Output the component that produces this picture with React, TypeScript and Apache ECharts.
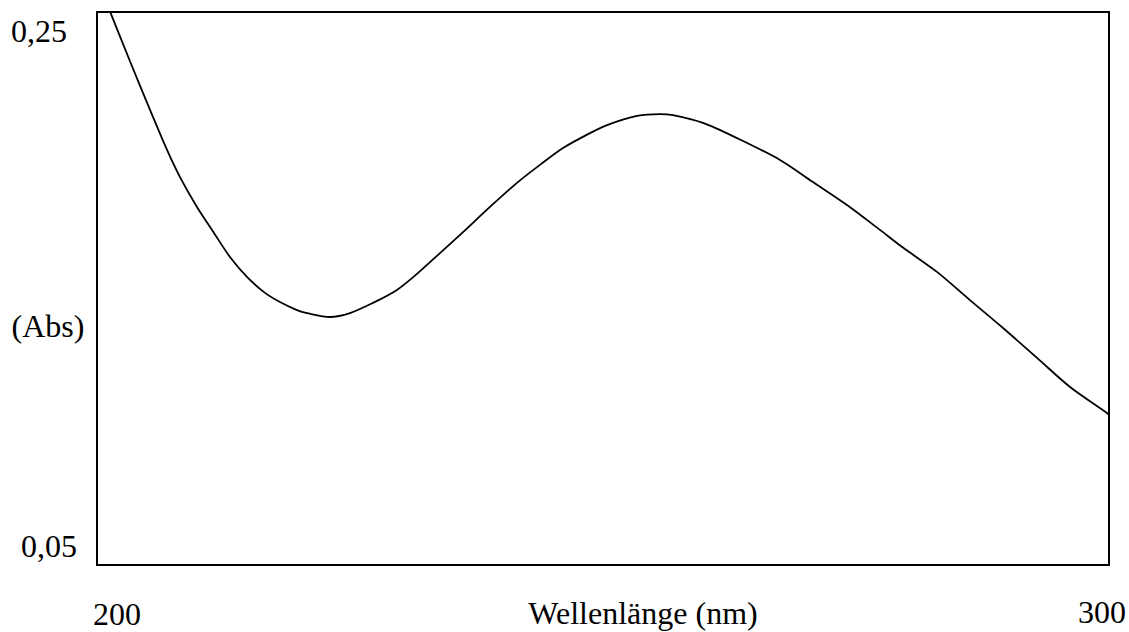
import React, { useEffect, useRef } from "react";
import * as echarts from "echarts";

// Wavelength (nm) and absorbance
const wavelengths = [
  200.79, 201.38, 203.26, 205.24, 206.92, 208.2, 209.88, 211.56, 213.14, 214.82,
  216.5, 218.08, 219.76, 220.75, 223.02, 225.0, 227.27, 229.64, 231.62, 233.89,
  236.17, 238.83, 241.5, 243.77, 246.05, 248.72, 250.4, 253.36, 255.63, 256.92,
  259.88, 263.24, 267.49, 270.75, 274.11, 277.37, 279.64, 283.0, 286.26, 289.53,
  292.89, 296.15, 299.8, 300.0,
];
const absorbance = [
  0.2545, 0.2493, 0.2322, 0.2146, 0.2001, 0.1903, 0.1795, 0.1701, 0.1614, 0.1542,
  0.1487, 0.1451, 0.1422, 0.1411, 0.1397, 0.1411, 0.1448, 0.1495, 0.1553, 0.1628,
  0.1704, 0.1795, 0.1882, 0.1947, 0.2008, 0.2062, 0.2091, 0.2124, 0.2131, 0.2127,
  0.2099, 0.2044, 0.1965, 0.1885, 0.1802, 0.1712, 0.1648, 0.156, 0.1458, 0.1357,
  0.1249, 0.1144, 0.105, 0.1042,
];

const xRange = [200, 300];
const yRange = [0.05, 0.25];
const xTickLabels = ["200", "300"];
const yTickLabels = ["0,25", "0,05"];
const xAxisTitle = "Wellenlänge (nm)";
const yAxisTitle = "(Abs)";

const FONT = '32px "Liberation Serif", "Times New Roman", serif';

export default function App() {
  const ref = useRef<HTMLDivElement>(null);

  useEffect(() => {
    if (!ref.current) return;
    const chart = echarts.init(ref.current, undefined, { renderer: "svg" });
    const data = wavelengths.map((w, i) => [w, absorbance[i]]);

    const txt = (text: string, x: number, y: number) => ({
      type: "text",
      x,
      y,
      style: {
        text,
        font: FONT,
        fill: "#000",
        align: "center",
        verticalAlign: "middle",
      },
    });

    chart.setOption({
      animation: false,
      backgroundColor: "#fff",
      grid: {
        left: 97,
        top: 12,
        right: 20,
        bottom: 67,
        show: true,
        borderColor: "#000",
        borderWidth: 2,
        backgroundColor: "transparent",
      },
      xAxis: {
        type: "value",
        min: xRange[0],
        max: xRange[1],
        axisLine: { show: false },
        axisTick: { show: false },
        axisLabel: { show: false },
        splitLine: { show: false },
      },
      yAxis: {
        type: "value",
        min: yRange[0],
        max: yRange[1],
        axisLine: { show: false },
        axisTick: { show: false },
        axisLabel: { show: false },
        splitLine: { show: false },
      },
      series: [
        {
          type: "line",
          data,
          smooth: 0.3,
          showSymbol: false,
          clip: true,
          lineStyle: { color: "#000", width: 1.8 },
        },
      ],
      graphic: [
        txt(yTickLabels[0], 39, 31),
        txt(yTickLabels[1], 49, 546),
        txt(yAxisTitle, 48, 326),
        txt(xTickLabels[0], 117, 614),
        txt(xTickLabels[1], 1102, 612),
        txt(xAxisTitle, 643, 613),
      ],
    });

    return () => chart.dispose();
  }, []);

  return (
    <div
      ref={ref}
      style={{ position: "fixed", left: 0, top: 0, width: 1129, height: 632 }}
    />
  );
}
